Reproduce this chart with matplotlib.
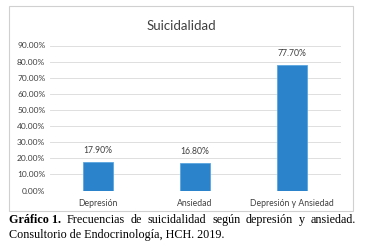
import matplotlib
matplotlib.use("Agg")
import matplotlib.pyplot as plt
from matplotlib.patches import Rectangle

categories = ["Depresión", "Ansiedad", "Depresión y Ansiedad"]
values = [17.90, 16.80, 77.70]
yticks = [0, 10, 20, 30, 40, 50, 60, 70, 80, 90]
caption_bold = "Gráfico 1."
caption_line1 = ["Frecuencias", "de", "suicidalidad", "según", "depresión", "y", "ansiedad."]
caption_line2 = "Consultorio de Endocrinología, HCH. 2019."

W, H = 366, 242
fig = plt.figure(figsize=(W / 100, H / 100), dpi=100)
fig.patch.set_facecolor("white")

# chart frame
fig.patches.append(Rectangle((9 / W, 1 - 211 / H), (353 - 9) / W, (211 - 6) / H,
                             transform=fig.transFigure, fill=False,
                             edgecolor="#d0d0d0", linewidth=0.8))

ax = fig.add_axes([49.5 / W, 1 - 190.5 / H, (340.5 - 49.5) / W, (190.5 - 45.5) / H])
x = range(len(categories))
ax.bar(x, values, width=0.31, color="#2b83cc", edgecolor="#5aa6e0", linewidth=0.6, zorder=3)
ax.set_xlim(-0.5, 2.5)
ax.set_ylim(0, 90)
ax.set_yticks(yticks)
ax.set_yticklabels([f"{v:.2f}%" for v in yticks], fontsize=6, color="#404040", family="Lato")
ax.set_xticks(list(x))
ax.set_xticklabels(categories, fontsize=6.2, color="#404040", family="Lato")
ax.tick_params(length=0, pad=3)
ax.tick_params(axis="x", pad=6)
ax.grid(axis="y", color="#d9d9d9", linewidth=0.6, zorder=0)
for s in ax.spines.values():
    s.set_visible(False)
for i, v in enumerate(values):
    ax.annotate(f"{v:.2f}%", (i, v), xytext=(0, 5), textcoords="offset points",
                ha="center", va="bottom", fontsize=6.2, color="#404040", family="Lato")

fig.text(181 / W, 1 - 26 / H, "Suicidalidad", ha="center", va="center",
         fontsize=9.5, color="#404040", family="Lato")

# caption, first line justified
fig.canvas.draw()
r = fig.canvas.get_renderer()
y1 = 1 - 220 / H
pieces = [fig.text(0, y1, caption_bold, fontsize=8.7, fontweight="bold",
                   family="Liberation Serif", va="center")]
pieces += [fig.text(0, y1, w, fontsize=8.7, family="Liberation Serif", va="center")
           for w in caption_line1]
widths = [p.get_window_extent(r).width for p in pieces]
left, right = 9.0, 356.0
gap = (right - left - sum(widths)) / (len(pieces) - 1)
pos = left
for p, w in zip(pieces, widths):
    p.set_x(pos / W)
    pos += w + gap
fig.text(left / W, 1 - 235 / H, caption_line2, fontsize=8.7,
         family="Liberation Serif", va="center")

fig.savefig("out.png", dpi=100)
